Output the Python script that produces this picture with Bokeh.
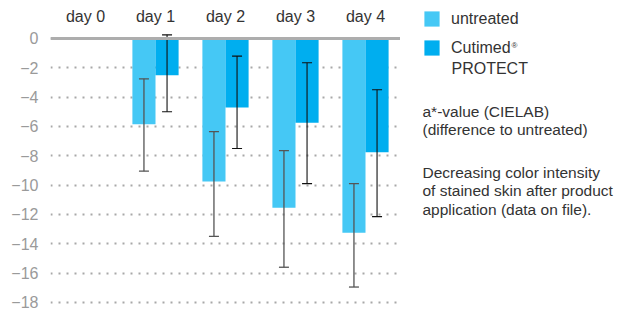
from bokeh.plotting import figure
from bokeh.layouts import row
from bokeh.models import (ColumnDataSource, Whisker, Span, Legend, LegendItem, Label,
                          FixedTicker, TeeHead, Range1d)
from bokeh.transform import dodge
from bokeh.embed import file_html
from bokeh.resources import INLINE

# ---- data ----
days = ["day 0", "day 1", "day 2", "day 3", "day 4"]
bar_days = ["day 1", "day 2", "day 3", "day 4"]
untreated = [-5.85, -9.75, -11.55, -13.25]
untreated_lo = [-9.05, -13.5, -15.6, -16.95]
untreated_hi = [-2.75, -6.35, -7.65, -9.9]
cutimed = [-2.5, -4.7, -5.75, -7.75]
cutimed_lo = [-5.0, -7.5, -9.9, -12.15]
cutimed_hi = [0.25, -1.2, -1.65, -3.5]
y_ticks = [0, -2, -4, -6, -8, -10, -12, -14, -16, -18]
series_labels = ["untreated", "Cutimed"]
note_lines = ["PROTECT", "a*-value (CIELAB)", "(difference to untreated)",
              "Decreasing color intensity", "of stained skin after product",
              "application (data on file)."]

FONT = "Liberation Sans"
C_UNT = "#45c8f5"
C_CUT = "#00aeef"
TXT = "#333333"

src = ColumnDataSource(dict(day=bar_days, unt=untreated, unt_lo=untreated_lo, unt_hi=untreated_hi,
                            cut=cutimed, cut_lo=cutimed_lo, cut_hi=cutimed_hi))

p = figure(width=400, height=310, x_range=days, y_range=(-18.55, 0.545),
           x_axis_location="above", output_backend="svg", toolbar_location=None,
           min_border_left=50, min_border_right=0, min_border_top=30, min_border_bottom=0)
p.outline_line_color = None

W = 0.33
p.vbar(x=dodge("day", -W / 2, range=p.x_range), top="unt", bottom=0, width=W,
       source=src, fill_color=C_UNT, line_color=None)
p.vbar(x=dodge("day", W / 2, range=p.x_range), top="cut", bottom=0, width=W,
       source=src, fill_color=C_CUT, line_color=None)

for base, up, lo, col, lw in [(-W / 2, "unt_hi", "unt_lo", "#555555", 1.3),
                              (W / 2, "cut_hi", "cut_lo", "#111111", 1.1)]:
    w = Whisker(base=dodge("day", base, range=p.x_range), upper=up, lower=lo, source=src,
                line_color=col, line_width=lw, level="annotation",
                upper_head=TeeHead(size=10, line_color=col, line_width=lw),
                lower_head=TeeHead(size=10, line_color=col, line_width=lw))
    p.add_layout(w)

p.add_layout(Span(location=0, dimension="width", line_color="#adadad", line_width=3))

p.xaxis.axis_line_color = None
p.xaxis.major_tick_line_color = None
p.xaxis.major_tick_out = 0
p.xaxis.minor_tick_line_color = None
p.xaxis.major_label_text_font = FONT
p.xaxis.major_label_text_font_size = "16px"
p.xaxis.major_label_text_color = TXT
p.xaxis.major_label_standoff = 6
p.xgrid.grid_line_color = None

p.yaxis.ticker = FixedTicker(ticks=y_ticks)
p.yaxis.axis_line_color = None
p.yaxis.major_tick_line_color = None
p.yaxis.major_tick_out = 0
p.yaxis.minor_tick_line_color = None
p.yaxis.major_label_text_font = FONT
p.yaxis.major_label_text_font_size = "16px"
p.yaxis.major_label_text_color = "#9a9a9a"
p.yaxis.major_label_standoff = 12
p.ygrid.grid_line_color = "#a8a8a8"
p.ygrid.grid_line_width = 2
p.ygrid.grid_line_dash = "2 6"

# ---- right-hand panel: legend and notes (pixel-like coordinates, y downwards) ----
q = figure(width=228, height=310, x_range=Range1d(0, 228), y_range=Range1d(310, 0),
           output_backend="svg", toolbar_location=None, frame_align=False,
           min_border_left=0, min_border_right=0, min_border_top=0, min_border_bottom=0)
q.axis.visible = False
q.grid.visible = False
q.outline_line_color = None

# zero-size proxy bars, only used to give the legend its swatches
k_unt = q.vbar(x=[0], top=[0], bottom=[0], width=0, fill_color=C_UNT, line_color=None)
k_cut = q.vbar(x=[0], top=[0], bottom=[0], width=0, fill_color=C_CUT, line_color=None)
legend = Legend(items=[LegendItem(label=series_labels[0], renderers=[k_unt]),
                       LegendItem(label=series_labels[1], renderers=[k_cut])],
                location=(22, 253), orientation="vertical",
                glyph_width=19, glyph_height=19, spacing=10, padding=0, margin=0,
                label_text_font=FONT, label_text_font_size="16px", label_text_color=TXT,
                label_standoff=10, label_height=19, border_line_color=None,
                background_fill_alpha=0)
q.add_layout(legend, "center")

# superscript registered mark after "Cutimed"
q.add_layout(Label(x=111, y=45, text="®", text_font=FONT, text_font_size="8px",
                   text_color=TXT, text_baseline="middle", text_align="left"))

note_x = [51, 22, 22, 22, 22, 22]
note_y = [68, 111, 129, 172, 190, 209]
note_size = ["16px", "15.5px", "15.5px", "15.5px", "15.5px", "15.5px"]
for t, xx, yy, fs in zip(note_lines, note_x, note_y, note_size):
    q.add_layout(Label(x=xx, y=yy, text=t, text_font=FONT, text_font_size=fs,
                       text_color=TXT, text_baseline="middle", text_align="left"))

open("out.html", "w").write(file_html(row(p, q), INLINE))
